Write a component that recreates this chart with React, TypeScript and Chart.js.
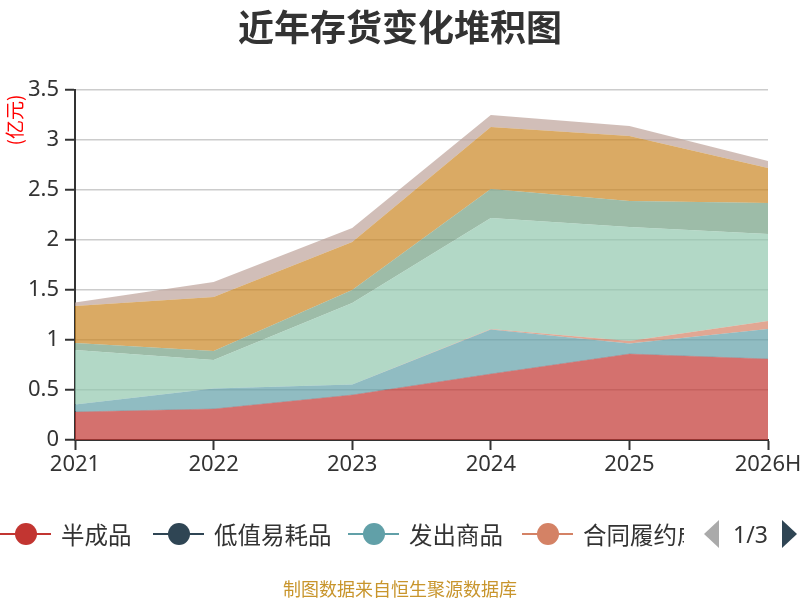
import React, { useEffect, useRef } from "react";
import { Chart, registerables } from "chart.js";

Chart.register(...registerables);

// 亿元, stacked from the bottom up
const years = ["2021", "2022", "2023", "2024", "2025", "2026H"];
const banChengPin = [0.28, 0.31, 0.45, 0.66, 0.86, 0.81];
const diZhiYiHaoPin = [0.005, 0.005, 0.005, 0.005, 0.005, 0.005];
const faChuShangPin = [0.07, 0.2, 0.1, 0.44, 0.1, 0.295];
const heTongLvYue = [0, 0, 0, 0.005, 0.025, 0.08];
const kuCunShangPin = [0.545, 0.285, 0.815, 1.11, 1.14, 0.87];
const weiTuoJiaGong = [0.07, 0.09, 0.13, 0.29, 0.26, 0.31];
const yuanCaiLiao = [0.37, 0.54, 0.48, 0.62, 0.65, 0.35];
const zaiChanPin = [0.035, 0.15, 0.14, 0.12, 0.1, 0.07];
const yTicks = [0, 0.5, 1, 1.5, 2, 2.5, 3, 3.5];

const seriesNames = [
  "半成品",
  "低值易耗品",
  "发出商品",
  "合同履约成本",
  "库存商品",
  "委托加工物资",
  "原材料",
  "在产品",
];
const seriesData = [
  banChengPin,
  diZhiYiHaoPin,
  faChuShangPin,
  heTongLvYue,
  kuCunShangPin,
  weiTuoJiaGong,
  yuanCaiLiao,
  zaiChanPin,
];
const palette = [
  "#c23531",
  "#2f4554",
  "#61a0a8",
  "#d48265",
  "#91c7ae",
  "#749f83",
  "#ca8622",
  "#bda29a",
];

const fontNum = '"Noto Sans", "Noto Sans CJK SC", sans-serif';
const fontCjk = '"Noto Sans CJK SC", "Noto Sans", sans-serif';

function withAlpha(hex: string, a: number) {
  const n = parseInt(hex.slice(1), 16);
  return `rgba(${(n >> 16) & 255},${(n >> 8) & 255},${n & 255},${a})`;
}

// legend page 1: first four series
const legendX = [0, 153, 348, 522];

function LegendItem({ i }: { i: number }) {
  const left = legendX[i];
  return (
    <div style={{ position: "absolute", left, top: 519, height: 30 }}>
      <div
        style={{
          position: "absolute",
          left: 0,
          top: 14,
          width: 51,
          height: 2,
          background: palette[i],
        }}
      />
      <div
        style={{
          position: "absolute",
          left: 15,
          top: 4,
          width: 22,
          height: 22,
          borderRadius: 11,
          background: palette[i],
        }}
      />
      <div
        style={{
          position: "absolute",
          left: 61,
          top: 0,
          lineHeight: "30px",
          fontSize: 23.5,
          color: "#333",
          fontFamily: fontCjk,
          whiteSpace: "nowrap",
        }}
      >
        {seriesNames[i]}
      </div>
    </div>
  );
}

export default function App() {
  const chartRef = useRef<HTMLCanvasElement | null>(null);

  useEffect(() => {
    if (!chartRef.current) {
      return;
    }
    const chart = new Chart(chartRef.current, {
      type: "line",
      data: {
        labels: years,
        datasets: seriesData.map((d, i) => ({
          label: seriesNames[i],
          data: d,
          fill: i === 0 ? "origin" : "-1",
          backgroundColor: withAlpha(palette[i], 0.7),
          borderColor: withAlpha(palette[i], 0.7),
          borderWidth: 0,
          pointRadius: 0,
          tension: 0,
        })),
      },
      options: {
        animation: false,
        responsive: false,
        layout: { padding: { top: 90, right: 32, left: 0, bottom: 0 } },
        plugins: {
          legend: { display: false },
          title: { display: false },
          tooltip: { enabled: false },
        },
        scales: {
          x: {
            offset: false,
            grid: {
              drawOnChartArea: false,
              drawTicks: true,
              tickLength: 10,
              tickColor: "#333",
              tickWidth: 2,
            },
            border: { color: "#333", width: 2 },
            ticks: {
              color: "#333",
              font: { family: fontNum, size: 22 },
              padding: 2,
              maxRotation: 0,
              autoSkip: false,
            },
            afterFit: (s: any) => {
              s.height = 160;
              s.paddingLeft = 0;
              s.paddingRight = 0;
            },
          },
          y: {
            stacked: true,
            min: 0,
            max: 3.5,
            afterBuildTicks: (s: any) => {
              s.ticks = yTicks.map((v) => ({ value: v }));
            },
            grid: {
              color: "#ccc",
              lineWidth: 1.5,
              tickLength: 10,
              tickColor: "#333",
              tickWidth: 2,
            },
            border: { color: "#333", width: 2 },
            ticks: {
              color: "#333",
              font: { family: fontNum, size: 22 },
              padding: 6,
              callback: (v: any) => String(v),
            },
            afterFit: (s: any) => {
              s.width = 75;
              s.paddingTop = 0;
              s.paddingBottom = 0;
            },
          },
        },
      },
    });
    return () => {
      chart.destroy();
    };
  }, [chartRef]);

  return (
    <div
      style={{
        position: "fixed",
        left: 0,
        top: 0,
        width: 800,
        height: 600,
        background: "#fff",
        overflow: "hidden",
      }}
    >
      <canvas
        ref={chartRef}
        width={800}
        height={600}
        style={{ position: "absolute", left: 0, top: 0 }}
      />
      <div
        style={{
          position: "absolute",
          left: 0,
          top: 0,
          width: 800,
          textAlign: "center",
          lineHeight: "50px",
          fontSize: 36,
          fontWeight: "bold",
          color: "#333",
          fontFamily: fontCjk,
        }}
      >
        近年存货变化堆积图
      </div>
      <div
        style={{
          position: "absolute",
          left: 13,
          top: 120,
          transform: "translate(-50%, -50%) rotate(-90deg)",
          fontSize: 19,
          color: "#f00",
          fontFamily: fontCjk,
          whiteSpace: "nowrap",
        }}
      >
        (亿元)
      </div>
      <div
        style={{
          position: "absolute",
          left: 0,
          top: 0,
          width: 684,
          height: 600,
          overflow: "hidden",
        }}
      >
        {[0, 1, 2, 3].map((i) => (
          <LegendItem key={i} i={i} />
        ))}
      </div>
      <div
        style={{
          position: "absolute",
          left: 704,
          top: 520,
          width: 0,
          height: 0,
          borderTop: "14px solid transparent",
          borderBottom: "14px solid transparent",
          borderRight: "15px solid #aaa",
        }}
      />
      <div
        style={{
          position: "absolute",
          left: 733,
          top: 519,
          lineHeight: "30px",
          fontSize: 23,
          color: "#333",
          fontFamily: fontNum,
        }}
      >
        1/3
      </div>
      <div
        style={{
          position: "absolute",
          left: 782,
          top: 520,
          width: 0,
          height: 0,
          borderTop: "14px solid transparent",
          borderBottom: "14px solid transparent",
          borderLeft: "15px solid #2f4554",
        }}
      />
      <div
        style={{
          position: "absolute",
          left: 0,
          top: 576,
          width: 800,
          textAlign: "center",
          lineHeight: "24px",
          fontSize: 18,
          color: "#c8952c",
          fontFamily: fontCjk,
        }}
      >
        制图数据来自恒生聚源数据库
      </div>
    </div>
  );
}
